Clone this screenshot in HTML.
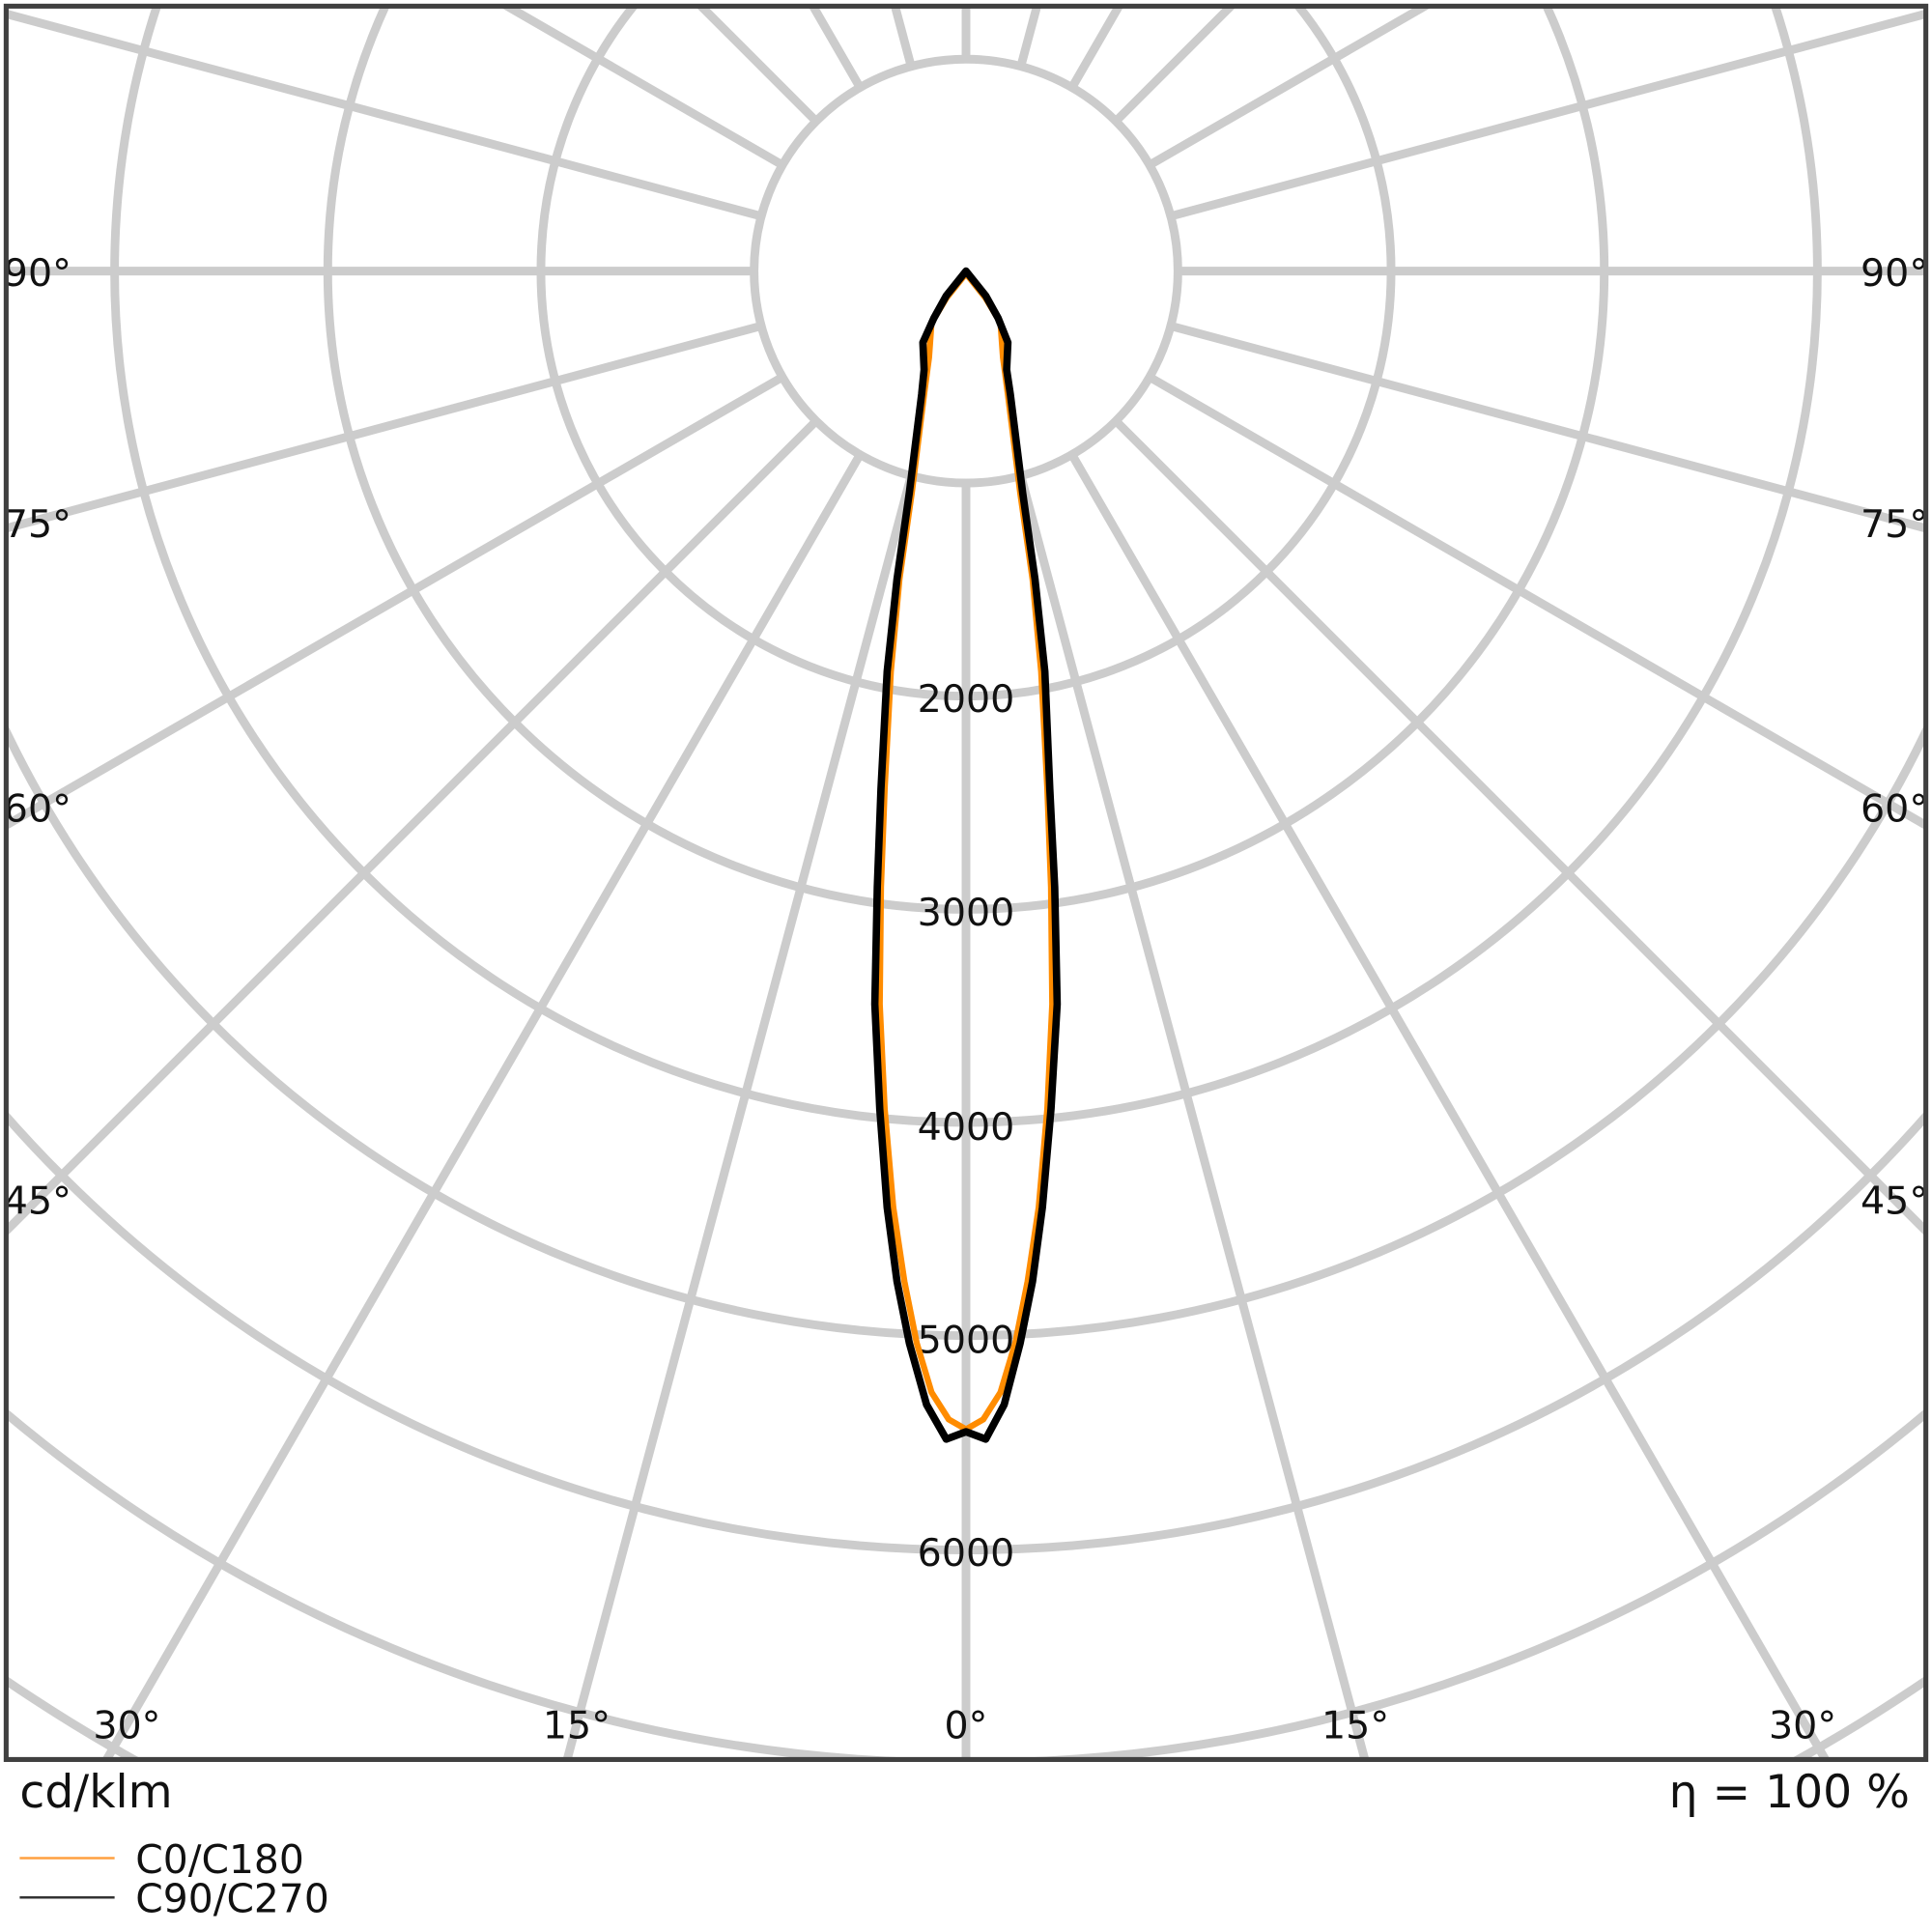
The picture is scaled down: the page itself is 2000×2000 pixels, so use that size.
<!DOCTYPE html>
<html><head><meta charset="utf-8"><style>html,body{margin:0;padding:0;background:#fff;width:2000px;height:2000px;overflow:hidden}svg{display:block}</style></head>
<body>
<svg width="2000" height="2000" viewBox="0 0 1568 1568" xmlns="http://www.w3.org/2000/svg" font-family="'DejaVu Sans','Liberation Sans',sans-serif">
<defs><clipPath id="c"><rect x="5" y="5" width="1558" height="1423"/></clipPath></defs>
<rect width="1568" height="1568" fill="#fff"/>
<g clip-path="url(#c)" stroke="#cccccc" stroke-width="7" fill="none">
<circle cx="784" cy="220" r="172"/>
<circle cx="784" cy="220" r="345"/>
<circle cx="784" cy="220" r="518"/>
<circle cx="784" cy="220" r="691"/>
<circle cx="784" cy="220" r="864"/>
<circle cx="784" cy="220" r="1038"/>
<circle cx="784" cy="220" r="1211"/>
<circle cx="784" cy="220" r="1384"/>
<circle cx="784" cy="220" r="1557"/>
<line x1="784" y1="392" x2="784" y2="2400"/>
<line x1="784" y1="392" x2="784" y2="2400" transform="rotate(15 784 220)"/>
<line x1="784" y1="392" x2="784" y2="2400" transform="rotate(30 784 220)"/>
<line x1="784" y1="392" x2="784" y2="2400" transform="rotate(45 784 220)"/>
<line x1="784" y1="392" x2="784" y2="2400" transform="rotate(60 784 220)"/>
<line x1="784" y1="392" x2="784" y2="2400" transform="rotate(75 784 220)"/>
<line x1="784" y1="392" x2="784" y2="2400" transform="rotate(90 784 220)"/>
<line x1="784" y1="392" x2="784" y2="2400" transform="rotate(105 784 220)"/>
<line x1="784" y1="392" x2="784" y2="2400" transform="rotate(120 784 220)"/>
<line x1="784" y1="392" x2="784" y2="2400" transform="rotate(135 784 220)"/>
<line x1="784" y1="392" x2="784" y2="2400" transform="rotate(150 784 220)"/>
<line x1="784" y1="392" x2="784" y2="2400" transform="rotate(165 784 220)"/>
<line x1="784" y1="392" x2="784" y2="2400" transform="rotate(180 784 220)"/>
<line x1="784" y1="392" x2="784" y2="2400" transform="rotate(195 784 220)"/>
<line x1="784" y1="392" x2="784" y2="2400" transform="rotate(210 784 220)"/>
<line x1="784" y1="392" x2="784" y2="2400" transform="rotate(225 784 220)"/>
<line x1="784" y1="392" x2="784" y2="2400" transform="rotate(240 784 220)"/>
<line x1="784" y1="392" x2="784" y2="2400" transform="rotate(255 784 220)"/>
<line x1="784" y1="392" x2="784" y2="2400" transform="rotate(270 784 220)"/>
<line x1="784" y1="392" x2="784" y2="2400" transform="rotate(285 784 220)"/>
<line x1="784" y1="392" x2="784" y2="2400" transform="rotate(300 784 220)"/>
<line x1="784" y1="392" x2="784" y2="2400" transform="rotate(315 784 220)"/>
<line x1="784" y1="392" x2="784" y2="2400" transform="rotate(330 784 220)"/>
<line x1="784" y1="392" x2="784" y2="2400" transform="rotate(345 784 220)"/>
</g>
<g font-size="31" fill="#111" text-anchor="middle">
<text x="784" y="578">2000</text>
<text x="784" y="751">3000</text>
<text x="784" y="925">4000</text>
<text x="784" y="1098">5000</text>
<text x="784" y="1271">6000</text>
<text x="103" y="1411">30°</text>
<text x="468" y="1411">15°</text>
<text x="784" y="1411">0°</text>
<text x="1100" y="1411">15°</text>
<text x="1463" y="1411">30°</text>
</g>
<g font-size="31" fill="#111">
<text x="3" y="232">90°</text><text x="3" y="436">75°</text><text x="3" y="667">60°</text><text x="3" y="985">45°</text>
<text x="1510" y="232">90°</text><text x="1510" y="436">75°</text><text x="1510" y="667">60°</text><text x="1510" y="985">45°</text>
</g>
<path d="M784,222 L800,242 L812,262 L814,290 L818,320 L828,400 L838,470 L845,545 L850,640 L853,720 L854,815 L850,900 L843,980 L834,1040 L824,1090 L812,1130 L798,1152 L784,1160 L770,1152 L756,1130 L744,1090 L734,1040 L725,980 L718,900 L714,815 L715,720 L718,640 L723,545 L730,470 L740,400 L750,320 L754,290 L756,262 L768,242 Z" fill="none" stroke="#ff8c00" stroke-width="5" stroke-linejoin="round"/>
<path d="M784,220 L800,240 L810,258 L818,278 L817,300 L820,320 L830,400 L840,470 L848,545 L852,640 L856,720 L858,815 L853,900 L846,980 L838,1040 L828,1090 L815,1140 L800,1168 L784,1162 L768,1168 L752,1140 L738,1090 L728,1040 L720,980 L714,900 L710,815 L712,720 L715,640 L720,545 L728,470 L738,400 L748,320 L750,300 L749,278 L758,258 L768,240 Z" fill="none" stroke="#000" stroke-width="6" stroke-linejoin="round"/>
<rect x="5" y="5" width="1558" height="1423" fill="none" stroke="#404040" stroke-width="4"/>
<g fill="#111">
<text x="16" y="1467" font-size="37">cd/klm</text>
<text x="1550" y="1467" font-size="37" text-anchor="end">η = 100 %</text>
<text x="110" y="1520" font-size="32">C0/C180</text>
<text x="110" y="1552" font-size="32">C90/C270</text>
</g>
<line x1="16" y1="1508" x2="93" y2="1508" stroke="#ffa040" stroke-width="2"/>
<line x1="16" y1="1540" x2="93" y2="1540" stroke="#333" stroke-width="2"/>
</svg>
</body></html>
